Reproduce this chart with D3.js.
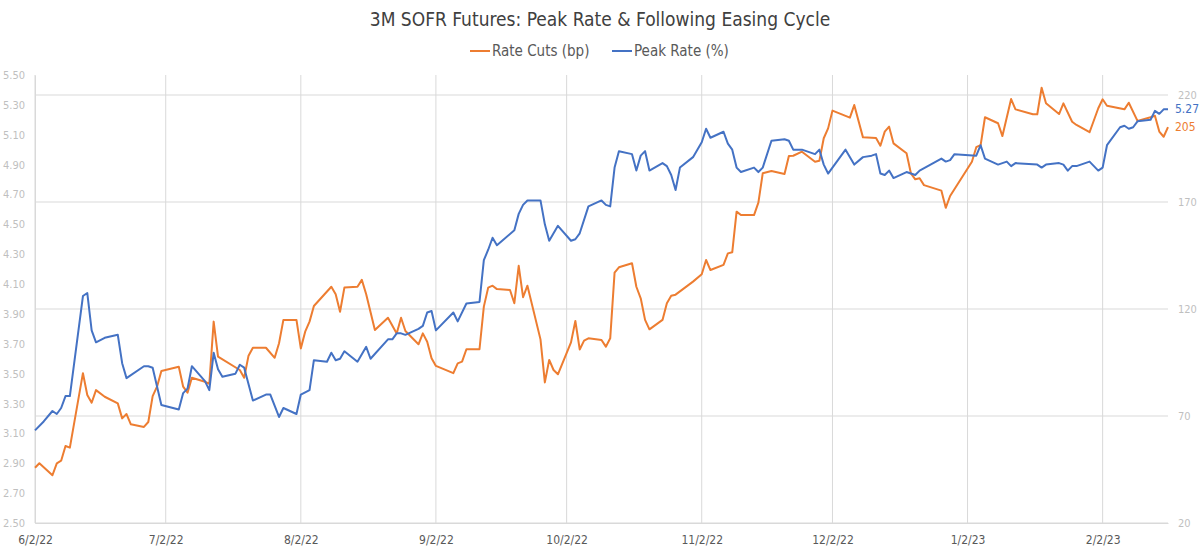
<!DOCTYPE html>
<html lang="en">
<head>
<meta charset="UTF-8">
<title>3M SOFR Futures: Peak Rate & Following Easing Cycle</title>
<script src="https://d3js.org/d3.v7.min.js"></script>
<style>
  body { margin: 0; background: #fff; font-family: "Liberation Sans Narrow", "DejaVu Sans Condensed", Roboto, sans-serif; }
  svg { display: block; }
</style>
</head>
<body>
<svg width="1200" height="548"></svg>
<script>
// Peak Rate (%) - left axis
const peakRate = [
  ["6/2/22",3.12],["6/4/22",3.18],["6/6/22",3.25],["6/7/22",3.23],["6/8/22",3.27],["6/9/22",3.35],
  ["6/10/22",3.35],["6/13/22",4.02],["6/14/22",4.04],["6/15/22",3.79],["6/16/22",3.71],["6/18/22",3.74],
  ["6/21/22",3.76],["6/22/22",3.57],["6/23/22",3.47],["6/27/22",3.55],["6/28/22",3.55],["6/29/22",3.54],
  ["7/1/22",3.29],["7/5/22",3.26],["7/6/22",3.37],["7/7/22",3.40],["7/8/22",3.55],["7/11/22",3.45],
  ["7/12/22",3.39],["7/13/22",3.64],["7/14/22",3.53],["7/15/22",3.48],["7/18/22",3.50],["7/19/22",3.56],
  ["7/20/22",3.54],["7/22/22",3.32],["7/25/22",3.36],["7/26/22",3.36],["7/28/22",3.21],["7/29/22",3.27],
  ["8/1/22",3.23],["8/2/22",3.36],["8/4/22",3.39],["8/5/22",3.59],["8/8/22",3.58],["8/9/22",3.64],
  ["8/10/22",3.59],["8/11/22",3.60],["8/12/22",3.65],["8/15/22",3.58],["8/17/22",3.68],["8/18/22",3.60],
  ["8/22/22",3.73],["8/23/22",3.73],["8/24/22",3.77],["8/25/22",3.77],["8/26/22",3.76],["8/29/22",3.80],
  ["8/30/22",3.82],["8/31/22",3.91],["9/1/22",3.92],["9/2/22",3.79],["9/6/22",3.91],["9/7/22",3.85],
  ["9/9/22",3.97],["9/12/22",3.98],["9/13/22",4.26],["9/14/22",4.33],["9/15/22",4.41],["9/16/22",4.36],
  ["9/20/22",4.46],["9/21/22",4.57],["9/22/22",4.63],["9/23/22",4.66],["9/26/22",4.66],["9/27/22",4.50],
  ["9/28/22",4.39],["9/30/22",4.49],["10/3/22",4.39],["10/4/22",4.40],["10/5/22",4.44],["10/7/22",4.62],
  ["10/10/22",4.66],["10/11/22",4.63],["10/12/22",4.62],["10/13/22",4.88],["10/14/22",4.99],["10/17/22",4.97],
  ["10/18/22",4.86],["10/19/22",4.96],["10/20/22",4.99],["10/21/22",4.86],["10/24/22",4.91],["10/25/22",4.89],
  ["10/26/22",4.83],["10/27/22",4.73],["10/28/22",4.88],["10/31/22",4.95],["11/1/22",5.00],["11/2/22",5.05],
  ["11/3/22",5.14],["11/4/22",5.08],["11/7/22",5.12],["11/8/22",5.04],["11/9/22",5.00],["11/10/22",4.88],
  ["11/11/22",4.85],["11/14/22",4.88],["11/15/22",4.85],["11/16/22",4.88],["11/18/22",5.06],["11/21/22",5.07],
  ["11/22/22",5.06],["11/23/22",5.00],["11/25/22",5.00],["11/28/22",4.97],["11/29/22",5.00],["11/30/22",4.90],
  ["12/1/22",4.84],["12/5/22",5.00],["12/7/22",4.90],["12/9/22",4.95],["12/11/22",4.96],["12/12/22",4.97],
  ["12/13/22",4.84],["12/14/22",4.83],["12/15/22",4.86],["12/16/22",4.81],["12/19/22",4.85],["12/21/22",4.83],
  ["12/22/22",4.86],["12/27/22",4.94],["12/28/22",4.92],["12/29/22",4.93],["12/30/22",4.97],["1/4/23",4.96],
  ["1/5/23",5.03],["1/6/23",4.94],["1/9/23",4.90],["1/11/23",4.92],["1/12/23",4.89],["1/13/23",4.91],
  ["1/18/23",4.90],["1/19/23",4.88],["1/20/23",4.90],["1/23/23",4.91],["1/24/23",4.90],["1/25/23",4.86],
  ["1/26/23",4.89],["1/27/23",4.89],["1/30/23",4.92],["2/1/23",4.86],["2/2/23",4.88],["2/3/23",5.03],
  ["2/6/23",5.15],["2/7/23",5.16],["2/8/23",5.14],["2/9/23",5.15],["2/10/23",5.19],["2/13/23",5.20],
  ["2/14/23",5.26],["2/15/23",5.24],["2/16/23",5.27],["2/17/23",5.27]
];

// Rate Cuts (bp) - right axis
const rateCuts = [
  ["6/2/22",45.8],["6/3/22",47.9],["6/6/22",42.3],["6/7/22",47.9],["6/8/22",49.1],["6/9/22",56.0],
  ["6/10/22",55.2],["6/13/22",90.0],["6/14/22",79.8],["6/15/22",76.2],["6/16/22",82.1],["6/18/22",79.0],
  ["6/21/22",75.9],["6/22/22",68.9],["6/23/22",70.9],["6/24/22",66.1],["6/27/22",64.9],["6/28/22",67.2],
  ["6/29/22",79.3],["6/30/22",83.7],["7/1/22",91.0],["7/5/22",93.0],["7/6/22",83.7],["7/7/22",80.9],
  ["7/8/22",87.9],["7/11/22",86.0],["7/12/22",85.0],["7/13/22",114.1],["7/14/22",97.7],["7/19/22",91.5],
  ["7/20/22",87.9],["7/21/22",98.2],["7/22/22",101.9],["7/25/22",101.9],["7/27/22",97.2],["7/28/22",104.0],
  ["7/29/22",114.9],["8/1/22",114.9],["8/2/22",101.6],["8/3/22",109.4],["8/4/22",114.1],["8/5/22",121.4],
  ["8/9/22",130.4],["8/10/22",126.9],["8/11/22",118.7],["8/12/22",130.0],["8/15/22",130.4],["8/16/22",133.6],
  ["8/17/22",126.9],["8/19/22",110.2],["8/22/22",115.9],["8/24/22",108.6],["8/25/22",115.9],["8/26/22",109.7],
  ["8/29/22",103.5],["8/30/22",108.6],["8/31/22",104.7],["9/1/22",97.0],["9/2/22",93.4],["9/6/22",90.0],
  ["9/7/22",94.6],["9/8/22",95.4],["9/9/22",101.2],["9/12/22",101.2],["9/13/22",121.1],["9/14/22",130.0],
  ["9/15/22",130.9],["9/16/22",129.3],["9/19/22",128.9],["9/20/22",122.7],["9/21/22",140.2],["9/22/22",125.5],
  ["9/23/22",130.9],["9/26/22",105.8],["9/27/22",85.7],["9/28/22",96.2],["9/29/22",91.5],["9/30/22",89.5],
  ["10/3/22",104.4],["10/4/22",114.4],["10/5/22",101.1],["10/6/22",105.2],["10/7/22",106.3],["10/10/22",105.5],
  ["10/11/22",102.4],["10/12/22",106.3],["10/13/22",137.0],["10/14/22",139.5],["10/17/22",141.4],["10/18/22",130.4],
  ["10/19/22",125.0],["10/20/22",114.9],["10/21/22",110.5],["10/24/22",114.9],["10/25/22",122.7],["10/26/22",126.2],
  ["10/27/22",126.7],["10/31/22",132.8],["11/2/22",136.2],["11/3/22",142.9],["11/4/22",138.2],["11/7/22",140.6],
  ["11/8/22",146.0],["11/9/22",146.5],["11/10/22",165.5],["11/11/22",163.9],["11/14/22",163.9],["11/15/22",169.7],
  ["11/16/22",183.4],["11/18/22",184.5],["11/21/22",183.1],["11/22/22",191.5],["11/23/22",191.6],["11/25/22",193.5],
  ["11/28/22",188.8],["11/29/22",189.3],["11/30/22",199.8],["12/1/22",204.4],["12/2/22",212.7],["12/6/22",209.4],
  ["12/7/22",215.3],["12/9/22",200.2],["12/11/22",200.0],["12/12/22",199.9],["12/13/22",196.3],["12/14/22",202.9],
  ["12/15/22",205.2],["12/16/22",197.4],["12/19/22",192.8],["12/20/22",183.4],["12/21/22",180.6],["12/22/22",181.1],
  ["12/23/22",177.9],["12/27/22",175.3],["12/28/22",167.3],["12/29/22",172.8],["1/3/23",188.8],["1/4/23",195.6],
  ["1/5/23",196.6],["1/6/23",209.6],["1/9/23",206.8],["1/10/23",200.8],["1/12/23",218.1],["1/13/23",213.3],
  ["1/17/23",211.0],["1/18/23",211.0],["1/19/23",223.4],["1/20/23",216.1],["1/23/23",211.1],["1/24/23",216.1],
  ["1/26/23",207.5],["1/27/23",206.0],["1/30/23",202.6],["2/1/23",213.8],["2/2/23",218.0],["2/3/23",215.0],
  ["2/7/23",213.3],["2/8/23",216.4],["2/10/23",207.9],["2/13/23",209.6],["2/14/23",210.3],["2/15/23",202.9],
  ["2/16/23",200.5],["2/17/23",205]
];

const monthTicks = ["6/2/22","7/2/22","8/2/22","9/2/22","10/2/22","11/2/22","12/2/22","1/2/23","2/2/23"];
const leftTicks = [2.5,2.7,2.9,3.1,3.3,3.5,3.7,3.9,4.1,4.3,4.5,4.7,4.9,5.1,5.3,5.5];
const rightTicks = [20,70,120,170,220];

const parse = d3.timeParse("%m/%d/%y");
const peak = peakRate.map(d => ({ date: parse(d[0]), v: d[1] }));
const cuts = rateCuts.map(d => ({ date: parse(d[0]), v: d[1] }));

const blue = "#4472C4", orange = "#ED7D31", grid = "#d9d9d9";
const font = "\"Liberation Sans Narrow\", \"DejaVu Sans Condensed\", Roboto, sans-serif";
const plotL = 35, plotR = 1168, plotT = 75, plotB = 523;

const x = d3.scaleTime().domain([parse("6/2/22"), parse("2/17/23")]).range([plotL, plotR]);
const yL = d3.scaleLinear().domain([2.5, 5.5]).range([plotB, plotT]);
const yR = d3.scaleLinear().domain([20, 20 + (plotB - plotT) / 107 * 50]).range([plotB, plotT]);

const svg = d3.select("svg");

// title + legend
svg.append("text").attr("x", 600).attr("y", 26).attr("text-anchor", "middle")
  .attr("font-size", 19).attr("fill", "#404040")
  .text("3M SOFR Futures: Peak Rate & Following Easing Cycle");

const legend = [["Rate Cuts (bp)", orange, 470], ["Peak Rate (%)", blue, 612]];
legend.forEach(([label, color, lx]) => {
  svg.append("line").attr("x1", lx).attr("x2", lx + 20).attr("y1", 51).attr("y2", 51)
    .attr("stroke", color).attr("stroke-width", 2);
  svg.append("text").attr("x", lx + 22).attr("y", 56).attr("font-size", 15)
    .attr("fill", "#595959").text(label);
});

// horizontal gridlines (right axis)
svg.append("g").selectAll("line").data(rightTicks).join("line")
  .attr("x1", plotL).attr("x2", plotR)
  .attr("y1", d => yR(d)).attr("y2", d => yR(d))
  .attr("stroke", grid).attr("stroke-width", 1);

// vertical gridlines at month ticks
svg.append("g").selectAll("line").data(monthTicks.map(parse)).join("line")
  .attr("x1", d => x(d)).attr("x2", d => x(d))
  .attr("y1", plotT).attr("y2", plotB)
  .attr("stroke", grid).attr("stroke-width", 1);

// x axis
const xAxis = svg.append("g").attr("transform", `translate(0,${plotB})`)
  .call(d3.axisBottom(x).tickValues(monthTicks.map(parse)).tickFormat(d3.timeFormat("%-m/%-d/%y")).tickSize(0).tickPadding(12));
xAxis.select(".domain").attr("stroke", grid);
xAxis.selectAll("text").attr("fill", "#595959").attr("font-size", 12).attr("font-family", font);

// left axis
const yAxisL = svg.append("g").attr("transform", `translate(${plotL},0)`)
  .call(d3.axisLeft(yL).tickValues(leftTicks).tickFormat(d3.format(".2f")).tickSize(0).tickPadding(10));
yAxisL.select(".domain").attr("stroke", grid);
yAxisL.selectAll("text").attr("fill", "#bfbfbf").attr("font-size", 11).attr("font-family", font);

// right axis
const yAxisR = svg.append("g").attr("transform", `translate(${plotR},0)`)
  .call(d3.axisRight(yR).tickValues(rightTicks).tickSize(0).tickPadding(10));
yAxisR.select(".domain").remove();
yAxisR.selectAll("text").attr("fill", "#bfbfbf").attr("font-size", 11).attr("font-family", font);

// lines
svg.append("path").datum(cuts)
  .attr("fill", "none").attr("stroke", orange).attr("stroke-width", 2).attr("stroke-linejoin", "round")
  .attr("d", d3.line().x(d => x(d.date)).y(d => yR(d.v)));
svg.append("path").datum(peak)
  .attr("fill", "none").attr("stroke", blue).attr("stroke-width", 2).attr("stroke-linejoin", "round")
  .attr("d", d3.line().x(d => x(d.date)).y(d => yL(d.v)));

// end labels
const lastPeak = peak[peak.length - 1], lastCut = cuts[cuts.length - 1];
svg.append("text").attr("x", plotR + 7).attr("y", yL(lastPeak.v) + 4).attr("font-size", 12)
  .attr("fill", blue).text(lastPeak.v.toFixed(2));
svg.append("text").attr("x", plotR + 7).attr("y", yR(lastCut.v) + 4).attr("font-size", 12)
  .attr("fill", orange).text(d3.format(".0f")(lastCut.v));
</script>
</body>
</html>
